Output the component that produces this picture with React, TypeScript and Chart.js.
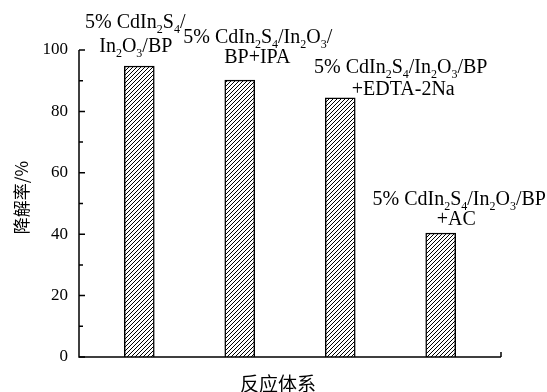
import { useEffect, useRef } from "react";
import { Chart, registerables } from "chart.js";

Chart.register(...registerables);

// Reaction systems (bar labels use "_x" for a subscript character)
const labelLines: string[][] = [
  ["5% CdIn_2S_4/", "In_2O_3/BP"],
  ["5% CdIn_2S_4/In_2O_3/", "BP+IPA"],
  ["5% CdIn_2S_4/In_2O_3/BP", "+EDTA-2Na"],
  ["5% CdIn_2S_4/In_2O_3/BP", "+AC"],
];
const positions = [1, 2, 3, 4];
const degradation = [94.8, 90.2, 84.4, 40.4];
const yMajorTicks = [0, 20, 40, 60, 80, 100];
const yMinorTicks = [10, 30, 50, 70, 90];
const yTitle = "降解率/%";
const xTitle = "反应体系";

// Per-line placement of the bar labels: [dx from bar centre, baseline dy from bar top]
const labelOffsets: [number, number][][] = [
  [[-4, -38], [-3.5, -14]],
  [[18, -37], [17.5, -17]],
  [[60.5, -25], [63, -3]],
  [[18.5, -28], [15.5, -8]],
];

const SERIF = '"Liberation Serif", "Times New Roman", serif';
const CJK = '"Noto Sans CJK SC", sans-serif';

function makeHatch(): CanvasPattern | string {
  const c = document.createElement("canvas");
  const s = 4;
  c.width = s;
  c.height = s;
  const g = c.getContext("2d");
  if (!g) return "#fff";
  g.fillStyle = "#fff";
  g.fillRect(0, 0, s, s);
  g.strokeStyle = "#000";
  g.lineWidth = 1;
  g.beginPath();
  g.moveTo(-1, s + 1);
  g.lineTo(s + 1, -1);
  g.moveTo(-1, 1);
  g.lineTo(1, -1);
  g.moveTo(s - 1, s + 1);
  g.lineTo(s + 1, s - 1);
  g.stroke();
  const p = g.createPattern(c, "repeat");
  return p || "#fff";
}

function parseRich(text: string) {
  const segs: { t: string; sub: boolean }[] = [];
  let buf = "";
  for (let i = 0; i < text.length; i++) {
    if (text[i] === "_" && i + 1 < text.length) {
      if (buf) segs.push({ t: buf, sub: false });
      buf = "";
      segs.push({ t: text[i + 1], sub: true });
      i++;
    } else {
      buf += text[i];
    }
  }
  if (buf) segs.push({ t: buf, sub: false });
  return segs;
}

function drawRich(ctx: CanvasRenderingContext2D, text: string, cx: number, baseline: number, size: number) {
  const segs = parseRich(text);
  const subSize = Math.round(size * 0.62);
  const widths = segs.map((s) => {
    ctx.font = `${s.sub ? subSize : size}px ${SERIF}`;
    return ctx.measureText(s.t).width;
  });
  const total = widths.reduce((a, b) => a + b, 0);
  let x = cx - total / 2;
  ctx.textAlign = "left";
  ctx.textBaseline = "alphabetic";
  segs.forEach((s, i) => {
    ctx.font = `${s.sub ? subSize : size}px ${SERIF}`;
    ctx.fillText(s.t, x, s.sub ? baseline + size * 0.27 : baseline);
    x += widths[i];
  });
}

const decorations = {
  id: "decorations",
  afterDraw(chart: Chart) {
    const { ctx, chartArea } = chart;
    const xs = chart.scales.x;
    const ys = chart.scales.y;
    ctx.save();
    ctx.strokeStyle = "#000";
    ctx.fillStyle = "#000";
    ctx.lineWidth = 1.5;

    // axes
    const top = ys.getPixelForValue(100);
    const bottom = chartArea.bottom;
    const left = chartArea.left;
    const right = chartArea.right;
    ctx.beginPath();
    ctx.moveTo(left, top);
    ctx.lineTo(left, bottom);
    ctx.lineTo(right, bottom);
    ctx.stroke();

    // inward ticks
    ctx.beginPath();
    yMajorTicks.forEach((v) => {
      const y = ys.getPixelForValue(v);
      ctx.moveTo(left, y);
      ctx.lineTo(left + 6, y);
    });
    yMinorTicks.forEach((v) => {
      const y = ys.getPixelForValue(v);
      ctx.moveTo(left, y);
      ctx.lineTo(left + 4, y);
    });
    ctx.moveTo(right, bottom);
    ctx.lineTo(right, bottom - 5);
    ctx.stroke();

    // bar labels
    const meta = chart.getDatasetMeta(0);
    meta.data.forEach((bar: any, i: number) => {
      labelLines[i].forEach((line, j) => {
        const [dx, dy] = labelOffsets[i][j];
        drawRich(ctx, line, bar.x + dx, bar.y + dy, 20);
      });
    });

    // axis titles
    ctx.font = `19px ${CJK}`;
    ctx.textAlign = "center";
    ctx.textBaseline = "middle";
    ctx.fillText(xTitle, (xs.left + xs.right) / 2 - 12, 384);

    ctx.save();
    ctx.translate(22, (top + bottom) / 2 - 6);
    ctx.rotate(-Math.PI / 2);
    ctx.font = `17px ${CJK}`;
    ctx.fillText(yTitle, 0, 0);
    ctx.restore();

    ctx.restore();
  },
};

export default function App() {
  const ref = useRef<HTMLCanvasElement>(null);

  useEffect(() => {
    if (!ref.current) return;
    const chart = new Chart(ref.current, {
      type: "bar",
      data: {
        datasets: [
          {
            data: positions.map((p, i) => ({ x: p, y: degradation[i] })),
            backgroundColor: makeHatch() as any,
            borderColor: "#000",
            borderWidth: 1.5,
            borderSkipped: "bottom",
            barThickness: 30,
          },
        ],
      },
      options: {
        animation: false,
        responsive: false,
        events: [],
        layout: { padding: { left: 0, top: 50, right: 46, bottom: 35 } },
        plugins: { legend: { display: false }, tooltip: { enabled: false } },
        scales: {
          x: {
            type: "linear",
            min: 0.4,
            max: 4.6,
            offset: false,
            grid: { offset: false },
            display: false,
          },
          y: {
            min: 0,
            max: 100,
            afterBuildTicks: (scale: any) => {
              scale.ticks = yMajorTicks.map((v) => ({ value: v }));
            },
            afterFit: (scale: any) => {
              scale.width = 79;
            },
            grid: { display: false, drawTicks: false },
            border: { display: false },
            ticks: {
              color: "#000",
              padding: 11,
              font: { family: SERIF, size: 17 },
            },
          },
        },
      },
      plugins: [decorations],
    });
    return () => chart.destroy();
  }, []);

  return (
    <div style={{ position: "absolute", left: 0, top: 0, width: 547, height: 392, background: "#fff" }}>
      <canvas ref={ref} width={547} height={392} style={{ display: "block" }} />
    </div>
  );
}
